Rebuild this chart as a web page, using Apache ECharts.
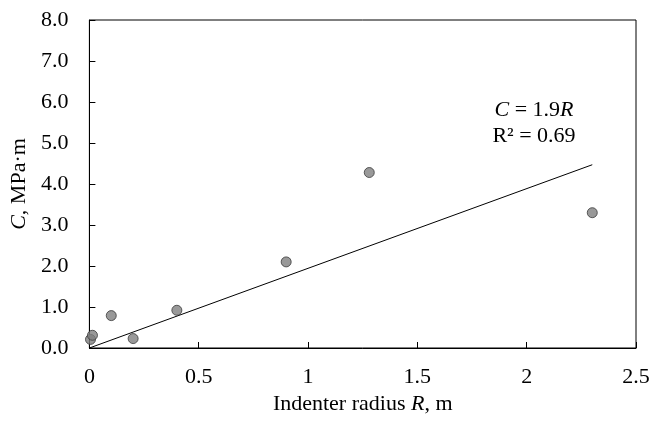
<!DOCTYPE html>
<html>
<head>
<meta charset="utf-8">
<script src="https://cdn.jsdelivr.net/npm/echarts@6/dist/echarts.min.js"></script>
<style>
  html, body { margin: 0; padding: 0; background: #fff; }
  #chart { width: 654px; height: 426px; }
</style>
</head>
<body>
<div id="chart"></div>
<script>
// measured points: indenter radius R (m) vs C (MPa·m)
const radius = [0.005, 0.014, 0.1, 0.2, 0.4, 0.9, 1.28, 2.3]
const cValues = [0.21, 0.31, 0.79, 0.23, 0.92, 2.1, 4.28, 3.3]
// linear trend through origin, C = 1.9R (drawn over data range)
const trendX = [0, 2.3]
const trendY = [0, 4.47]
const yTicks = ['0.0', '1.0', '2.0', '3.0', '4.0', '5.0', '6.0', '7.0', '8.0']

const font = 'Liberation Serif'
const size = 22

const chart = echarts.init(document.getElementById('chart'))

chart.setOption({
  animation: false,
  textStyle: { fontFamily: font },
  grid: {
    left: 89,
    right: 18,
    top: 20,
    bottom: 78,
    show: true,
    borderColor: '#000',
    borderWidth: 1
  },
  xAxis: {
    type: 'value',
    min: 0,
    max: 2.5,
    interval: 0.5,
    name: 'Indenter radius {i|R}, m',
    nameLocation: 'middle',
    nameGap: 43,
    nameTextStyle: {
      fontFamily: font,
      fontSize: size,
      color: '#000',
      rich: { i: { fontFamily: font, fontSize: size, fontStyle: 'italic', color: '#000' } }
    },
    axisLine: { lineStyle: { color: '#000', width: 1 } },
    axisTick: { inside: true, length: 6, lineStyle: { color: '#000' } },
    axisLabel: { color: '#000', fontSize: size, margin: 18, fontFamily: font },
    splitLine: { show: false }
  },
  yAxis: {
    type: 'value',
    min: 0,
    max: 8,
    interval: 1,
    name: '{i|C}, MPa·m',
    nameLocation: 'middle',
    nameGap: 57,
    nameTextStyle: {
      fontFamily: font,
      fontSize: size,
      color: '#000',
      rich: { i: { fontFamily: font, fontSize: size, fontStyle: 'italic', color: '#000' } }
    },
    axisLine: { show: true, lineStyle: { color: '#000', width: 1 } },
    axisTick: { show: true, inside: true, length: 6, lineStyle: { color: '#000' } },
    axisLabel: {
      color: '#000',
      fontSize: size,
      margin: 21,
      fontFamily: font,
      formatter: (v) => yTicks[Math.round(v)]
    },
    splitLine: { show: false }
  },
  series: [
    {
      type: 'line',
      data: trendX.map((x, i) => [x, trendY[i]]),
      showSymbol: false,
      symbol: 'none',
      lineStyle: { color: '#000', width: 1 },
      z: 1
    },
    {
      type: 'scatter',
      data: radius.map((r, i) => [r, cValues[i]]),
      symbol: 'circle',
      symbolSize: 10,
      itemStyle: { color: '#7f7f7f', borderColor: '#3a3a3a', borderWidth: 1 },
      z: 2
    }
  ],
  graphic: [
    {
      type: 'text',
      x: 534,
      y: 97,
      style: {
        text: '{i|C} = 1.9{i|R}\nR² = 0.69',
        align: 'center',
        verticalAlign: 'top',
        font: size + 'px ' + font,
        fill: '#000',
        lineHeight: 26,
        rich: {
          i: { fontFamily: font, fontSize: size, fontStyle: 'italic', fill: '#000', lineHeight: 26 }
        }
      }
    }
  ]
})
</script>
</body>
</html>
